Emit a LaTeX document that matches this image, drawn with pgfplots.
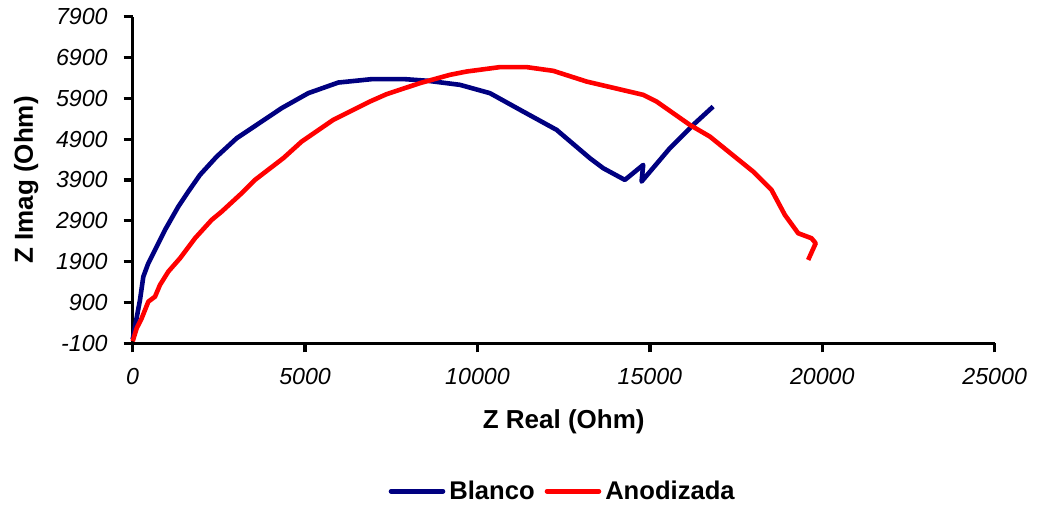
\documentclass[border=0pt]{standalone}
\usepackage{pgfplots}
\pgfplotsset{compat=1.18}
\usepackage{fontspec}
\setmainfont{Liberation Sans}
\definecolor{navyb}{HTML}{000080}
\definecolor{redc}{HTML}{FF0000}
\begin{document}
\begin{tikzpicture}
\useasboundingbox (-66.35pt,-81.35pt) rectangle (453.15pt,171.65pt);
\begin{axis}[
  at={(0,0)}, anchor=south west,
  scale only axis, width=431pt, height=163.3pt,
  xmin=0, xmax=25000, ymin=-100, ymax=7900,
  scaled x ticks=false, scaled y ticks=false,
  axis x line=bottom, axis y line=left,
  axis line style={-, line width=1.6pt},
  every tick/.style={black, line width=1.6pt},
  tick align=outside, major tick length=4.5pt,
  xtick={0,5000,10000,15000,20000,25000},
  xticklabels={0,5000,10000,15000,20000,25000},
  ytick={-100,900,1900,2900,3900,4900,5900,6900,7900},
  yticklabels={-100,900,1900,2900,3900,4900,5900,6900,7900},
  ticklabel style={font=\fontsize{11.6}{13}\selectfont\itshape},
  xticklabel style={yshift=-4.5pt},
  yticklabel style={xshift=-4.5pt},
  xlabel={Z Real (Ohm)}, ylabel={Z Imag (Ohm)},
  label style={font=\fontsize{13}{15}\selectfont\bfseries},
  xlabel style={at={(axis description cs:0.5,0)}, anchor=center, yshift=-39.4pt},
  ylabel style={at={(axis description cs:-0.1235,0.5)}, anchor=center},
  legend style={draw=none, at={(axis description cs:0.5,0)}, anchor=center, yshift=-74pt,
    font=\fontsize{12.8}{15}\selectfont\bfseries, legend columns=-1,
    /tikz/every even column/.append style={column sep=3pt}},
  legend image code/.code={\draw[#1, line cap=round] (0pt,0pt) -- (26pt,0pt);},
  clip=false,
]
\addplot[navyb, line width=2.3pt, line join=round] coordinates {
(0,0) (67,307) (212,963) (308,1532) (448,1850) (647,2187) (937,2677)
(1323,3248) (1613,3616) (1951,4025) (2436,4473) (3016,4924) (3595,5250)
(4320,5660) (5092,6027) (5962,6287) (6930,6370) (7896,6370) (8560,6330)
(9490,6231) (10360,6027) (11326,5576) (12294,5128) (13260,4434) (13646,4189)
(14274,3902) (14806,4270) (14758,3861) (15579,4679) (16255,5250) (16834,5699)
};
\addlegendentry{Blanco}
\addplot[redc, line width=2.3pt, line join=round] coordinates {
(0,-50) (115,268) (261,513) (454,920) (647,1042) (791,1329) (1032,1655)
(1372,1983) (1807,2473) (2290,2922) (2580,3125) (3160,3576) (3546,3902)
(4367,4434) (4900,4841) (5816,5373) (6880,5822) (7365,6003) (8331,6273)
(9200,6476) (9684,6557) (10650,6665) (11424,6665) (12196,6574) (13163,6312)
(14805,5986) (15193,5822) (16159,5250) (16739,4964) (17995,4106) (18527,3657)
(18914,3045) (19300,2596) (19688,2473) (19808,2350) (19590,1942)
};
\addlegendentry{Anodizada}
\end{axis}
\end{tikzpicture}
\end{document}
